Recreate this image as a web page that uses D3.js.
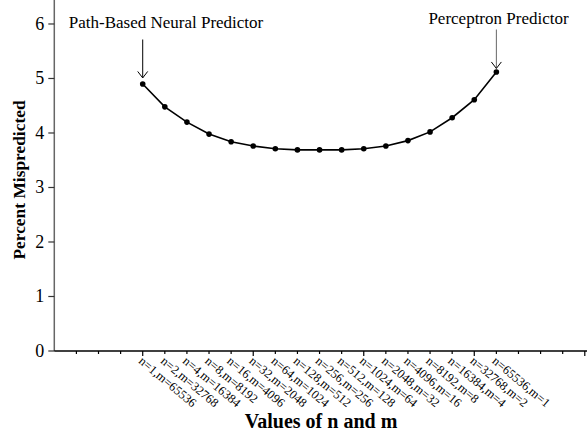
<!DOCTYPE html>
<html><head><meta charset="utf-8">
<script src="https://cdn.jsdelivr.net/npm/d3@7"></script>
<style>body{margin:0;background:#fff}svg{display:block}text{font-family:"Liberation Serif","Times New Roman",serif}</style>
</head><body><svg id="c" width="587" height="431"></svg>
<script>
const categories = ["n=1,m=65536","n=2,m=32768","n=4,m=16384","n=8,m=8192","n=16,m=4096","n=32,m=2048","n=64,m=1024","n=128,m=512","n=256,m=256","n=512,m=128","n=1024,m=64","n=2048,m=32","n=4096,m=16","n=8192,m=8","n=16384,m=4","n=32768,m=2","n=65536,m=1"];
const values = [4.90,4.48,4.20,3.98,3.84,3.76,3.71,3.69,3.69,3.69,3.71,3.76,3.86,4.02,4.28,4.61,5.12];
const yTicks = [0,1,2,3,4,5,6];
const annotations = [{label:"Path-Based Neural Predictor", idx:0},{label:"Perceptron Predictor", idx:16}];
const xOffset = 4; // category slots before first point
const xSlots = 24.1;

const svg = d3.select("#c");
const x = d3.scaleLinear().domain([0, xSlots]).range([54.3, 587]);
const y = d3.scaleLinear().domain([0, 6.44]).range([351, 0]);

// y axis
svg.append("line").attr("x1",x(0)).attr("x2",x(0)).attr("y1",y(0)).attr("y2",0).attr("stroke","#666").attr("stroke-width",1.5);
yTicks.forEach(t=>{
  svg.append("line").attr("x1",x(0)-6).attr("x2",x(0)).attr("y1",y(t)).attr("y2",y(t)).attr("stroke","#333").attr("stroke-width",1.2);
  svg.append("text").attr("x",x(0)-10).attr("y",y(t)+6).attr("text-anchor","end").attr("font-size",18).text(t);
});
// x axis
svg.append("line").attr("x1",x(0)).attr("x2",587).attr("y1",y(0)).attr("y2",y(0)).attr("stroke","#000").attr("stroke-width",1.5);
d3.range(1,25).forEach(i=>{
  const major = (i % 5) === 4;
  svg.append("line").attr("x1",x(i)).attr("x2",x(i)).attr("y1",y(0)).attr("y2",y(0)+(major?5:3)).attr("stroke","#000").attr("stroke-width",1.2);
});
categories.forEach((c,i)=>{
  const px = x(i+xOffset), py = y(0)+8;
  svg.append("text").attr("transform",`translate(${px-2},${py}) rotate(40)`).attr("font-size",12.5).attr("dy","0.35em").text(c);
});
// line
const line = d3.line().x((d,i)=>x(i+xOffset)).y(d=>y(d));
svg.append("path").datum(values).attr("d",line).attr("fill","none").attr("stroke","#000").attr("stroke-width",1.6);
svg.selectAll("circle.pt").data(values).enter().append("circle").attr("cx",(d,i)=>x(i+xOffset)).attr("cy",d=>y(d)).attr("r",2.8).attr("fill","#000");

// annotations
annotations.forEach(a=>{
  const px = x(a.idx+xOffset), py = y(values[a.idx]);
  const top = a.idx===0 ? 39.5 : 29.5;
  const tipY = a.idx===0 ? py - 6 : py - 3.5;
  const col = a.idx===0 ? "#000" : "#666";
  svg.append("line").attr("x1",px).attr("x2",px).attr("y1",top).attr("y2",tipY).attr("stroke",col).attr("stroke-width",1);
  svg.append("path").attr("d",`M${px-5},${tipY-6.5}L${px},${tipY}L${px+5},${tipY-6.5}`).attr("fill","none").attr("stroke","#000").attr("stroke-width",1);
});
svg.append("text").attr("x",166).attr("y",28).attr("text-anchor","middle").attr("font-size",17).text(annotations[0].label);
svg.append("text").attr("x",498.5).attr("y",23.5).attr("text-anchor","middle").attr("font-size",17).text(annotations[1].label);

// axis titles
svg.append("text").attr("transform",`translate(25,180) rotate(-90)`).attr("text-anchor","middle").attr("font-size",17.4).attr("font-weight","bold").text("Percent Mispredicted");
svg.append("text").attr("x",321).attr("y",428).attr("text-anchor","middle").attr("font-size",20).attr("font-weight","bold").text("Values of n and m");
</script></body></html>
